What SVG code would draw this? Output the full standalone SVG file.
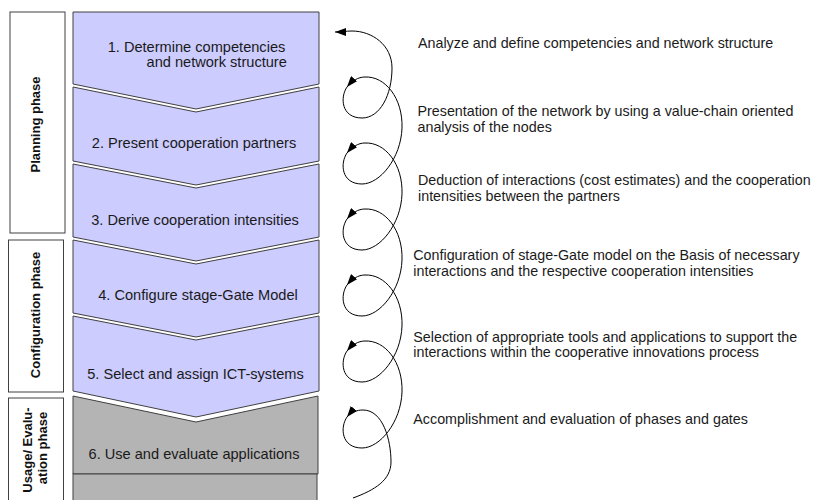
<svg xmlns="http://www.w3.org/2000/svg" width="819" height="500" viewBox="0 0 819 500">
<style>
.phase{fill:#fff;stroke:#404040;stroke-width:1}
.stage{fill:#ccccff;stroke:#404040;stroke-width:1}
.grey{fill:#b4b4b4;stroke:#404040;stroke-width:1}
.ptxt{font-family:"Liberation Sans",Arial,sans-serif;font-size:13px;font-weight:bold;fill:#111;text-anchor:middle}
.stxt{font-family:"Liberation Sans",Arial,sans-serif;font-size:14.6px;fill:#1a1a1a;text-anchor:middle}
.dtxt{font-family:"Liberation Sans",Arial,sans-serif;font-size:14.3px;fill:#1a1a1a}
.loop{fill:none;stroke:#000;stroke-width:1;marker-end:url(#arr)}
</style>
<defs>
<marker id="arr" markerUnits="userSpaceOnUse" markerWidth="11" markerHeight="8" refX="11" refY="4" orient="auto">
<path d="M0,0 L11,4 L0,8 z" fill="#000"/>
</marker>
</defs>
<rect width="819" height="500" fill="#fff"/>

<g id="phase-planning">
<rect class="phase" x="10" y="12" width="55" height="221"/>
<text class="ptxt" transform="translate(40,124.5) rotate(-90)">Planning phase</text>
</g>
<g id="phase-configuration">
<rect class="phase" x="8.5" y="240" width="55" height="152"/>
<text class="ptxt" transform="translate(40,315) rotate(-90)">Configuration phase</text>
</g>
<g id="phase-usage">
<rect class="phase" x="8.5" y="398" width="55" height="110"/>
<text class="ptxt" transform="translate(32,450) rotate(-90)">Usage/ Evalu-</text>
<text class="ptxt" transform="translate(46.5,448) rotate(-90)">ation phase</text>
</g>

<g id="stage1">
<path class="stage" d="M73,12 H319 V84 L196,109 L73,84 Z"/>
<text class="stxt" x="196.5" y="51.5">1. Determine competencies</text>
<text class="stxt" x="216.7" y="67">and network structure</text>
</g>
<g id="stage2">
<path class="stage" d="M73,87 L196,112 L319,87 V161 L196,185 L73,161 Z"/>
<text class="stxt" x="194" y="148">2. Present cooperation partners</text>
</g>
<g id="stage3">
<path class="stage" d="M73,164 L196,188 L319,164 V237 L196,261 L73,237 Z"/>
<text class="stxt" x="195" y="225">3. Derive cooperation intensities</text>
</g>
<g id="stage4">
<path class="stage" d="M73,240 L196,264 L319,240 V313 L196,337 L73,313 Z"/>
<text class="stxt" x="198" y="300">4. Configure stage-Gate Model</text>
</g>
<g id="stage5">
<path class="stage" d="M73,316 L196,340 L319,316 V391 L196,417 L73,391 Z"/>
<text class="stxt" x="195.5" y="379">5. Select and assign ICT-systems</text>
</g>
<g id="stage6">
<path class="grey" d="M73,396 L196,422 L318,396 V474 H73 Z"/>
<text class="stxt" x="194" y="459">6. Use and evaluate applications</text>
</g>
<g id="stage7">
<rect class="grey" x="73" y="474" width="244" height="40"/>
</g>

<g id="connectors">
<path class="loop" d="M347,87 C340,97 341,118 362,118 C380,118 392,95 392,68 C392,45 372,31 352,31 C346,31 340,32 335,32"/>
<path class="loop" d="M347,153 C340,163 341,184 362,184 C380,184 401,158 402,128 C403,98 385,76 365,77 C358,77 352,81 347,87"/>
<path class="loop" d="M347,219 C340,229 341,250 362,250 C380,250 401,224 402,194 C403,164 385,142 365,143 C358,143 352,147 347,153"/>
<path class="loop" d="M347,285 C340,295 341,316 362,316 C380,316 401,290 402,260 C403,230 385,208 365,209 C358,209 352,213 347,219"/>
<path class="loop" d="M347,351 C340,361 341,382 362,382 C380,382 401,356 402,326 C403,296 385,274 365,275 C358,275 352,279 347,285"/>
<path class="loop" d="M347,417 C340,427 341,448 362,448 C380,448 401,422 402,392 C403,362 385,340 365,341 C358,341 352,345 347,351"/>
<path class="loop" d="M353,498 C375,490 391,480 391,462 C391,440 383,410 363,410 C357,410 351,412 347,417"/>
</g>

<g id="descriptions">
<text class="dtxt" x="418" y="48">Analyze and define competencies and network structure</text>
<text class="dtxt" x="417.5" y="116">Presentation of the network by using a value-chain oriented</text>
<text class="dtxt" x="417.5" y="131.7">analysis of the nodes</text>
<text class="dtxt" x="418" y="185">Deduction of interactions (cost estimates) and the cooperation</text>
<text class="dtxt" x="418" y="200.5">intensities between the partners</text>
<text class="dtxt" x="413.3" y="260">Configuration of stage-Gate model on the Basis of necessary</text>
<text class="dtxt" x="413.3" y="275.5">interactions and the respective cooperation intensities</text>
<text class="dtxt" x="413.3" y="341.7">Selection of appropriate tools and applications to support the</text>
<text class="dtxt" x="413.3" y="357.3">interactions within the cooperative innovations process</text>
<text class="dtxt" x="413.3" y="424">Accomplishment and evaluation of phases and gates</text>
</g>
</svg>
